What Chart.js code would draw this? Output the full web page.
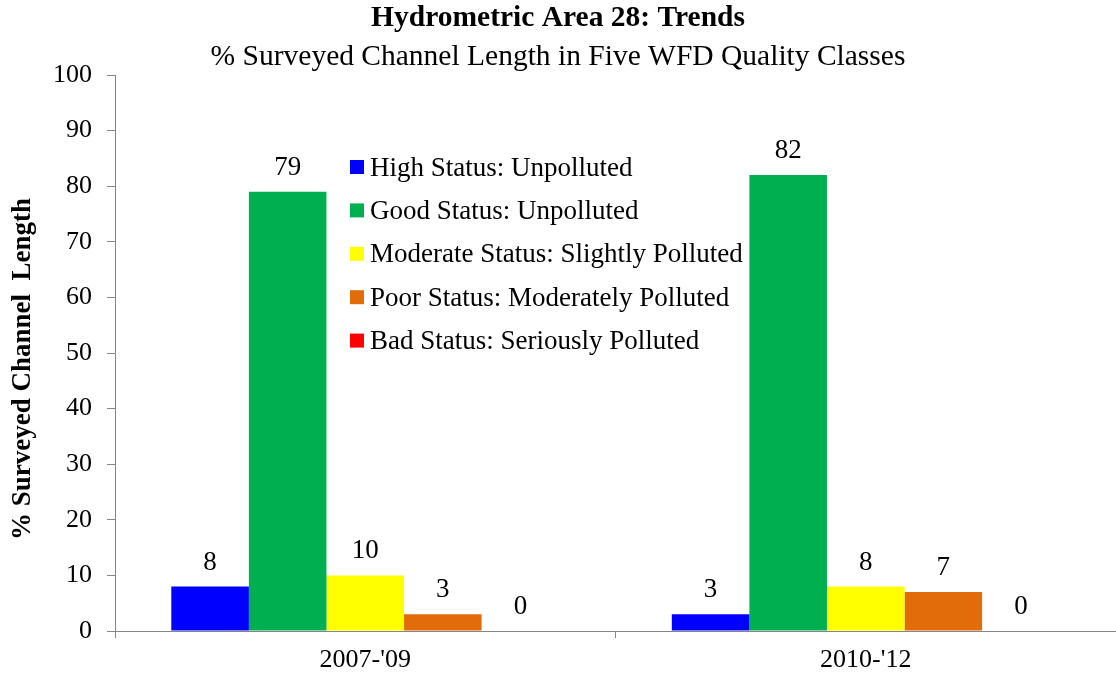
<!DOCTYPE html>
<html>
<head>
<meta charset="utf-8">
<script src="https://cdn.jsdelivr.net/npm/chart.js@4.4.1/dist/chart.umd.min.js"></script>
<style>
  html, body { margin: 0; padding: 0; background: #ffffff; }
  #wrap { width: 1116px; height: 675px; position: relative; }
</style>
</head>
<body>
<div id="wrap"><canvas id="c"></canvas></div>
<script>
const categories = ["2007-'09", "2010-'12"];
const seriesNames = [
  "High Status: Unpolluted",
  "Good Status: Unpolluted",
  "Moderate Status: Slightly Polluted",
  "Poor Status: Moderately Polluted",
  "Bad Status: Seriously Polluted"
];
const highStatus = [8, 3];
const goodStatus = [79, 82];
const moderateStatus = [10, 8];
const poorStatus = [3, 7];
const badStatus = [0, 0];
const seriesColors = ["#0000FF", "#00B050", "#FFFF00", "#E36C0A", "#FF0000"];
const titleText = "Hydrometric Area 28: Trends";
const subtitleText = "% Surveyed Channel Length in Five WFD Quality Classes";
const yAxisTitle = "% Surveyed Channel  Length";
const yTicksMin = 0, yTicksMax = 100, yTicksStep = 10;

const FONT = "'Liberation Serif', 'Times New Roman', serif";
const AXIS_COLOR = "#868686";

const seriesValues = [highStatus, goodStatus, moderateStatus, poorStatus, badStatus];

const overlayPlugin = {
  id: 'overlay',
  afterDatasetsDraw(chart) {
    const ctx = chart.ctx;
    ctx.save();
    // data labels
    ctx.font = "27px " + FONT;
    ctx.fillStyle = "#000000";
    ctx.textAlign = "center";
    ctx.textBaseline = "alphabetic";
    chart.data.datasets.forEach((ds, di) => {
      const meta = chart.getDatasetMeta(di);
      meta.data.forEach((el, i) => {
        ctx.fillText(String(ds.data[i]), el.x, el.y - 17);
      });
    });
    // legend inside plot
    const lx = 350, ly0 = 167, lstep = 43.4;
    ctx.font = "27px " + FONT;
    ctx.textAlign = "left";
    chart.data.datasets.forEach((ds, di) => {
      const cy = ly0 + di * lstep;
      ctx.fillStyle = ds.backgroundColor;
      ctx.fillRect(lx, cy - 7, 14, 14);
      ctx.fillStyle = "#000000";
      ctx.fillText(ds.label, lx + 20, cy + 8.5);
    });
    // y-axis title
    ctx.font = "bold 27px " + FONT;
    ctx.textAlign = "center";
    ctx.textBaseline = "middle";
    ctx.translate(23.5, 369);
    ctx.rotate(-Math.PI / 2);
    ctx.fillText(yAxisTitle, 0, 0);
    ctx.restore();
  }
};

new Chart(document.getElementById('c'), {
  type: 'bar',
  data: {
    labels: categories,
    datasets: seriesNames.map((name, i) => ({
      label: name,
      data: seriesValues[i],
      backgroundColor: seriesColors[i],
      borderWidth: 0,
      categoryPercentage: 0.775,
      barPercentage: 1.0
    }))
  },
  options: {
    responsive: true,
    maintainAspectRatio: false,
    devicePixelRatio: 1,
    animation: false,
    layout: { padding: { top: 0, left: 0, right: 0, bottom: 0 } },
    plugins: {
      legend: { display: false },
      tooltip: { enabled: false },
      title: {
        display: true,
        text: titleText,
        color: "#000000",
        font: { family: FONT, size: 29.5, weight: 'bold', lineHeight: 1.2 },
        padding: { top: 1, bottom: 0 }
      },
      subtitle: {
        display: true,
        text: subtitleText,
        color: "#000000",
        font: { family: FONT, size: 29.5, weight: 'normal', lineHeight: 1.2 },
        padding: { top: 2.9, bottom: 0.3 }
      }
    },
    scales: {
      x: {
        grid: {
          display: true,
          drawOnChartArea: false,
          drawTicks: true,
          tickLength: 7,
          color: AXIS_COLOR,
          offset: true
        },
        border: { display: true, color: AXIS_COLOR, width: 1 },
        ticks: {
          color: "#000000",
          font: { family: FONT, size: 26 },
          padding: 7,
          maxRotation: 0
        },
        afterFit(scale) { scale.height = 44; }
      },
      y: {
        min: yTicksMin,
        max: yTicksMax,
        grid: {
          display: true,
          drawOnChartArea: false,
          drawTicks: true,
          tickLength: 8,
          color: AXIS_COLOR
        },
        border: { display: true, color: AXIS_COLOR, width: 1 },
        ticks: {
          stepSize: yTicksStep,
          color: "#000000",
          font: { family: FONT, size: 26 },
          padding: 15
        },
        afterFit(scale) { scale.width = 115; }
      }
    }
  },
  plugins: [overlayPlugin]
});
</script>
</body>
</html>
